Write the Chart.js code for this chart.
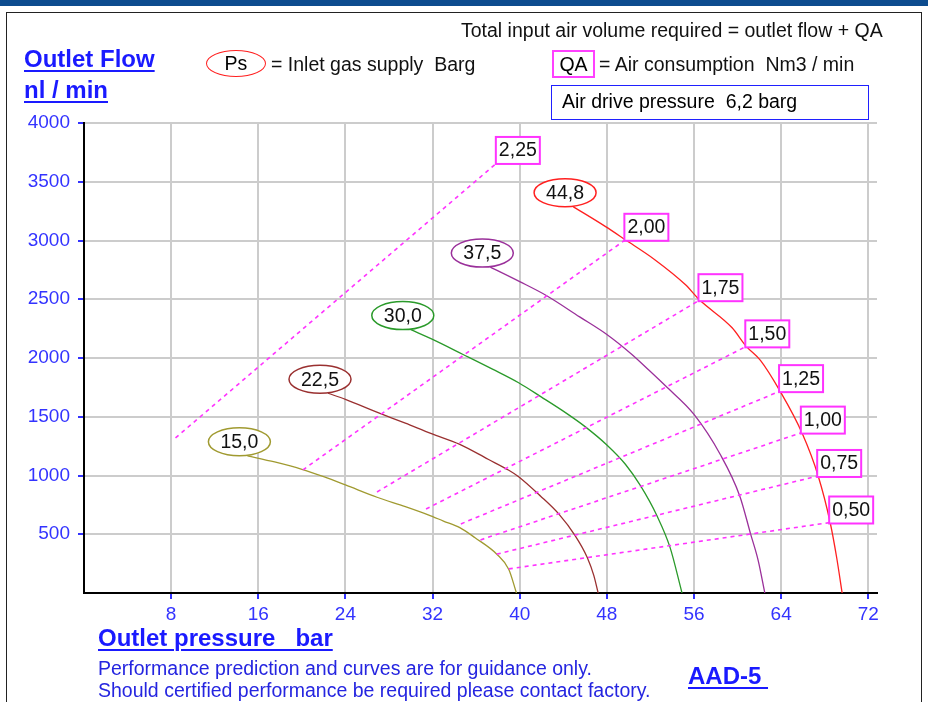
<!DOCTYPE html>
<html>
<head>
<meta charset="utf-8">
<script src="https://cdn.jsdelivr.net/npm/chart.js@4"></script>
<style>
  body { margin: 0; width: 928px; height: 702px; overflow: hidden; background: #fff; font-family: "Liberation Sans", Arial, sans-serif; }
  #wrap { position: relative; width: 928px; height: 702px; }
  #topbar { position: absolute; left: 0; top: 0; width: 928px; height: 6px; background: #0d4c8f; }
  #frame { position: absolute; left: 6px; top: 12px; width: 914px; height: 700px; border-left: 1px solid #222; border-top: 1px solid #222; border-right: 1px solid #222; }
  canvas { position: absolute; left: 0; top: 0; }
  .t { position: absolute; white-space: pre; line-height: 1; font-size: 19.5px; color: #111; }
  .big { font-weight: bold; font-size: 24px; color: #1a1aff; text-decoration: underline; text-decoration-thickness: 2px; text-underline-offset: 3px; }
  .foot { color: #2525e0; }
  .ell { position: absolute; border: 1.5px solid #ff2020; border-radius: 50%; box-sizing: border-box; text-align: center; font-size: 19.5px; }
  .box { position: absolute; box-sizing: border-box; font-size: 19.5px; white-space: pre; }
</style>
</head>
<body>
<div id="wrap">
  <div id="topbar"></div>
  <div id="frame"></div>
  <canvas id="c" width="928" height="702"></canvas>

  <div class="t" style="left:461px; top:21px;">Total input air volume required = outlet flow + QA</div>
  <div class="t big" style="left:24px; top:47px;">Outlet Flow</div>
  <div class="t big" style="left:24px; top:78px;">nl / min</div>

  <div class="ell" style="left:206px; top:50px; width:60px; height:27px; line-height:24px;">Ps</div>
  <div class="t" style="left:271px; top:55px;">= Inlet gas supply  Barg</div>

  <div class="box" style="left:552px; top:50px; width:43px; height:28px; border:2px solid #ff40ff; line-height:24px; text-align:center;">QA</div>
  <div class="t" style="left:599px; top:55px;">= Air consumption  Nm3 / min</div>

  <div class="box" style="left:551px; top:85px; width:318px; height:35px; border:1.5px solid #2020ff; line-height:31px; padding-left:10px;">Air drive pressure  6,2 barg</div>

  <div class="t big" style="left:98px; top:626px;">Outlet pressure   bar</div>
  <div class="t foot" style="left:98px; top:659px;">Performance prediction and curves are for guidance only.</div>
  <div class="t foot" style="left:98px; top:681px;">Should certified performance be required please contact factory.</div>
  <div class="t big" style="left:688px; top:664px;">AAD-5 </div>
</div>

<script>
// tick labels
const xTicks = [8, 16, 24, 32, 40, 48, 56, 64, 72];
const yTicks = [500, 1000, 1500, 2000, 2500, 3000, 3500, 4000];

// Ps curves: [outlet pressure bar, outlet flow nl/min]
const psLabels = ['15,0', '22,5', '30,0', '37,5', '44,8'];
const ps150 = [[15.0,1168],[17.5,1115],[20.0,1053],[22.0,990],[24.0,920],[26.9,815],[29.5,735],[31.6,665],[33.0,612],[34.5,556],[35.9,470],[37.9,330],[39.0,200],[39.7,0]];
const ps225 = [[22.4,1700],[24.0,1648],[27.0,1535],[29.5,1445],[31.9,1356],[34.5,1265],[37.1,1138],[39.0,1045],[39.9,990],[41.9,826],[43.6,671],[45.1,487],[46.2,303],[46.8,150],[47.2,0]];
const ps300 = [[30.0,2242],[32.0,2158],[34.8,2030],[37.5,1905],[39.9,1789],[42.0,1667],[44.2,1535],[46.0,1416],[48.0,1260],[49.7,1096],[51.1,911],[52.6,657],[53.8,388],[54.9,0]];
const ps375 = [[37.3,2774],[40.0,2650],[42.4,2534],[45.5,2350],[48.0,2200],[50.3,2030],[51.9,1893],[53.4,1761],[56.0,1520],[58.4,1181],[60.2,826],[61.2,501],[61.9,274],[62.5,0]];
const ps448 = [[44.9,3288],[47.85,3120],[49.7,3006],[52.4,2837],[55.2,2625],[56.5,2495],[59.5,2257],[60.8,2099],[62.1,1980],[63.9,1718],[65.9,1365],[67.4,996],[68.5,600],[69.1,300],[69.6,0]];
const psCurves = [ps150, ps225, ps300, ps375, ps448];
const psColors = ['#a09a30', '#9a3030', '#2a9a2a', '#9a309a', '#ff2020'];

// QA lines (air consumption Nm3/min): start and end points
const qaLabels = ['2,25', '2,00', '1,75', '1,50', '1,25', '1,00', '0,75', '0,50'];
const qaStart = [[8.4,1320],[20.1,1048],[26.9,860],[31.4,715],[34.6,588],[36.4,452],[37.9,331],[39.0,205]];
const qaEnd = [[37.9,3660],[49.7,3006],[56.5,2492],[60.8,2099],[63.9,1718],[65.9,1365],[67.4,996],[68.5,600]];

const FONT = '"Liberation Sans", Arial, sans-serif';
const pts = arr => arr.map(p => ({ x: p[0], y: p[1] }));

const datasets = [];
qaStart.forEach((s, i) => {
    datasets.push({
        data: pts([s, qaEnd[i]]),
        showLine: true, pointRadius: 0,
        borderColor: '#ff33ff', borderWidth: 1.6, borderDash: [4, 4]
    });
});
psCurves.forEach((c, i) => {
    datasets.push({
        data: pts(c),
        showLine: true, pointRadius: 0,
        borderColor: psColors[i], borderWidth: 1.3,
        cubicInterpolationMode: 'monotone'
    });
});

// labels on curve starts and QA line ends
const labelPlugin = {
    id: 'labels',
    afterDatasetsDraw(chart) {
        const ctx = chart.ctx, sx = chart.scales.x, sy = chart.scales.y;
        ctx.save();
        ctx.font = '19.5px ' + FONT;
        ctx.textAlign = 'center';
        ctx.textBaseline = 'middle';
        psCurves.forEach((c, i) => {
            const cx = sx.getPixelForValue(c[0][0]) - 8;
            const cy = sy.getPixelForValue(c[0][1]) - 14;
            ctx.beginPath();
            ctx.ellipse(cx, cy, 31, 14, 0, 0, Math.PI * 2);
            ctx.fillStyle = '#fff';
            ctx.fill();
            ctx.strokeStyle = psColors[i];
            ctx.lineWidth = 1.5;
            ctx.stroke();
            ctx.fillStyle = '#111';
            ctx.fillText(psLabels[i], cx, cy + 1);
        });
        qaEnd.forEach((e, i) => {
            const x = sx.getPixelForValue(e[0]) - 1;
            const y = sy.getPixelForValue(e[1]) + 1;
            ctx.fillStyle = '#fff';
            ctx.fillRect(x, y - 27, 44, 27);
            ctx.strokeStyle = '#ff33ff';
            ctx.lineWidth = 2;
            ctx.strokeRect(x, y - 27, 44, 27);
            ctx.fillStyle = '#111';
            ctx.fillText(qaLabels[i], x + 22, y - 13);
        });
        ctx.restore();
    }
};

new Chart(document.getElementById('c'), {
    type: 'scatter',
    data: { datasets },
    plugins: [labelPlugin],
    options: {
        responsive: false,
        animation: false,
        layout: { padding: { left: 0, top: 123, right: 51, bottom: 0 } },
        plugins: { legend: { display: false }, tooltip: { enabled: false } },
        scales: {
            x: {
                type: 'linear', min: 0, max: 72.8,
                afterBuildTicks: s => { s.ticks = xTicks.map(v => ({ value: v })); },
                afterFit: s => { s.height = 702 - 593; },
                grid: { color: '#cccccc', lineWidth: 2, tickColor: '#3333ff', tickLength: 6, tickWidth: 2 },
                border: { color: '#000', width: 2 },
                ticks: { color: '#3333ff', font: { family: FONT, size: 19 }, padding: 4, maxRotation: 0, autoSkip: false,
                         callback: v => String(v) }
            },
            y: {
                type: 'linear', min: 0, max: 4000,
                afterBuildTicks: s => { s.ticks = yTicks.map(v => ({ value: v })); },
                afterFit: s => { s.width = 84; },
                grid: { color: '#cccccc', lineWidth: 2, tickColor: '#3333ff', tickLength: 6, tickWidth: 2 },
                border: { color: '#000', width: 2 },
                ticks: { color: '#3333ff', font: { family: FONT, size: 19 }, padding: 8, autoSkip: false,
                         callback: v => String(v) }
            }
        }
    }
});
</script>
</body>
</html>
